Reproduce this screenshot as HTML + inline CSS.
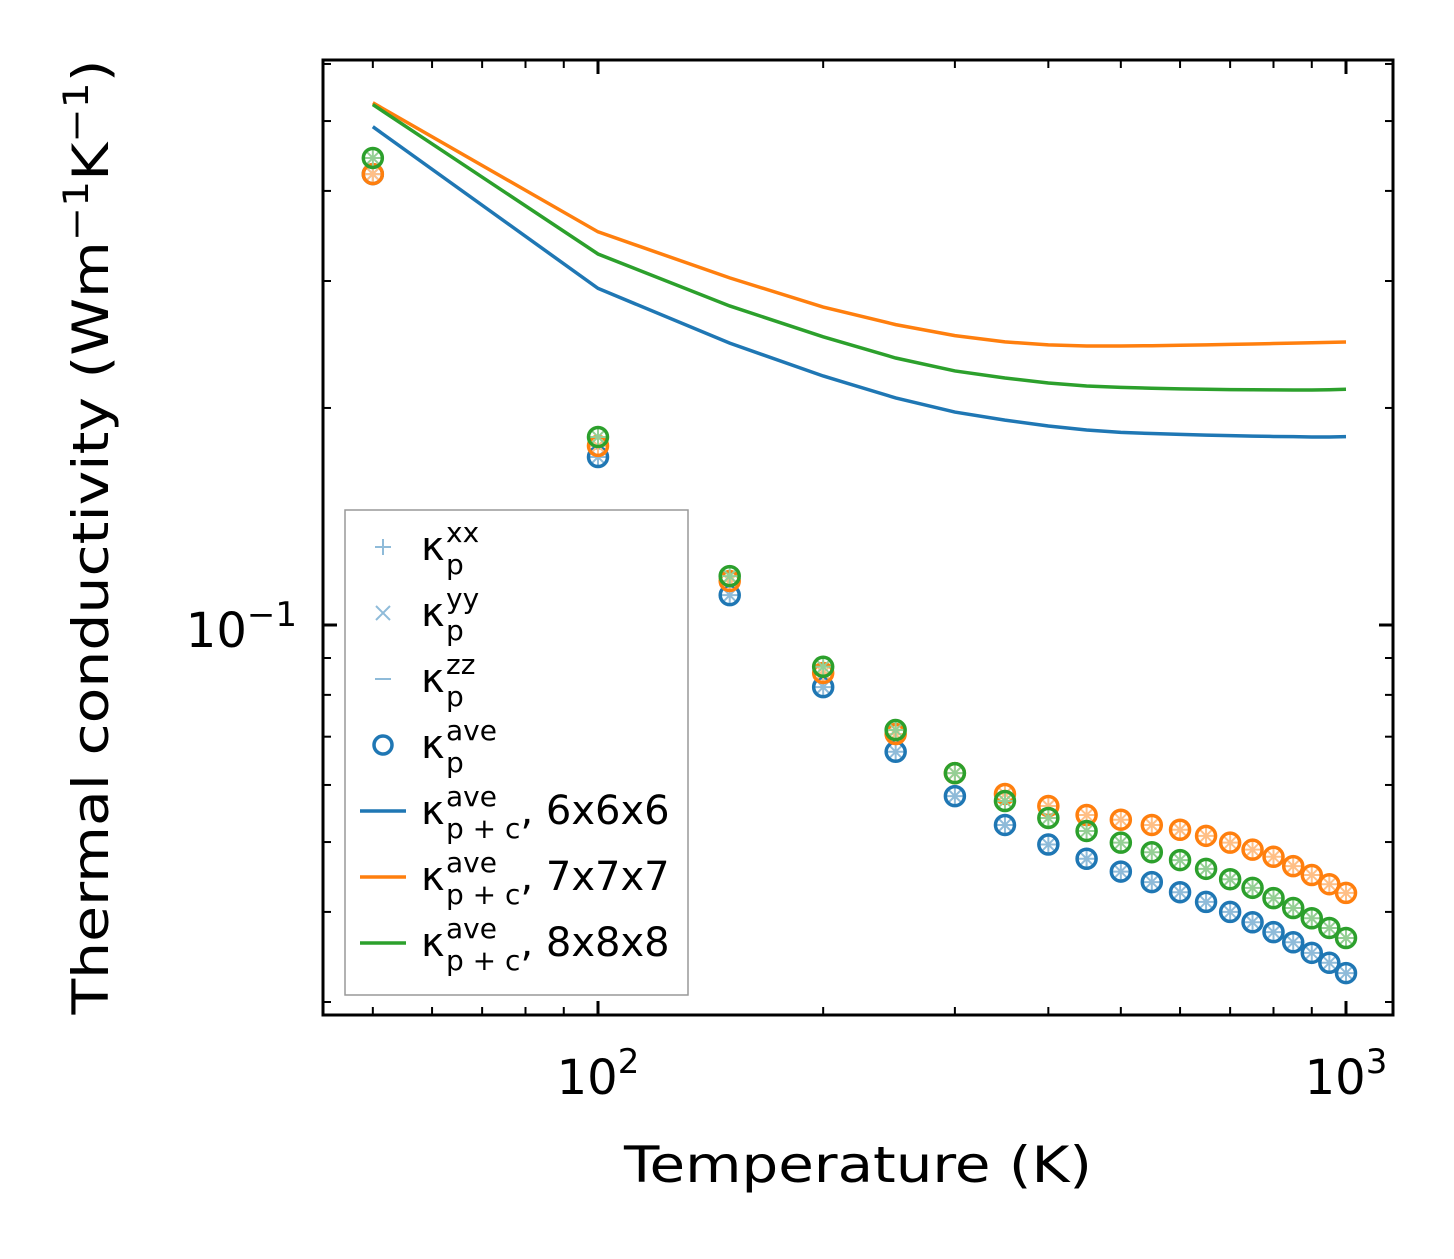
<!DOCTYPE html>
<html><head><meta charset="utf-8"><style>
body{margin:0;background:#fff}
svg text{font-family:"DejaVu Sans","Liberation Sans",sans-serif;fill:#000}
</style></head><body>
<svg id="chart" width="1454" height="1254" viewBox="0 0 1454 1254" xmlns="http://www.w3.org/2000/svg">
<rect width="1454" height="1254" fill="#fff"/>
<g id="marks"></g>
<rect x="323" y="60" width="1070" height="955" fill="none" stroke="#000" stroke-width="3"/>
<g id="ticks"></g>
<text x="598" y="1094" font-size="48" text-anchor="middle">10<tspan dy="-21" font-size="34">2</tspan></text>
<text x="1346" y="1094" font-size="48" text-anchor="middle">10<tspan dy="-21" font-size="34">3</tspan></text>
<text x="297" y="647" font-size="48" text-anchor="end">10<tspan dy="-21" font-size="34">−1</tspan></text>
<text x="858" y="1182" font-size="50" text-anchor="middle" textLength="468" lengthAdjust="spacingAndGlyphs">Temperature (K)</text>
<text transform="translate(108,537) rotate(-90)" font-size="50" text-anchor="middle" textLength="955" lengthAdjust="spacingAndGlyphs">Thermal conductivity (Wm<tspan dy="-20" font-size="35">−1</tspan><tspan dy="20">K</tspan><tspan dy="-20" font-size="35">−1</tspan><tspan dy="20">)</tspan></text>
<g>
<rect x="345" y="510" width="343" height="485" fill="#fff" stroke="#999" stroke-width="1.5"/>
<g id="legend-items"></g>
</g>
</svg>
<script>
const temps=[50,100,150,200,250,300,350,400,450,500,550,600,650,700,750,800,850,900,950,1000];
const line6=[.491,.293,.246,.2215,.2065,.1974,.1924,.1888,.1864,.1850,.1843,.1838,.1834,.1831,.1828,.1826,.1825,.1823,.1823,.1825];
const line7=[.530,.351,.303,.276,.261,.252,.247,.2446,.2438,.2438,.2440,.2443,.2446,.2450,.2453,.2457,.2460,.2463,.2466,.2469];
const line8=[.527,.327,.277,.251,.2346,.2251,.2201,.2166,.2145,.2136,.2130,.2126,.2123,.2121,.2120,.2119,.2118,.2118,.2120,.2123];
const pts6=[.4221,.1710,.1100,.0820,.0667,.0579,.0528,.0496,.0474,.0455,.0440,.0426,.0413,.0400,.0387,.0375,.0363,.0351,.0340,.0329];
const pts7=[.4221,.1772,.1151,.0858,.0706,.0623,.0583,.0561,.0545,.0537,.0528,.0520,.0510,.0499,.0488,.0477,.0463,.0450,.0437,.0425];
const pts8=[.4444,.1823,.1169,.0875,.0715,.0623,.0570,.0540,.0518,.0499,.0484,.0472,.0459,.0444,.0432,.0418,.0405,.0392,.0380,.0368];
const NS="http://www.w3.org/2000/svg";
const X=v=>598+748*(Math.log10(v)-2);
const Y=v=>625-721*(Math.log10(v)+1);
const C={b:"#1f77b4",o:"#ff7f0e",g:"#2ca02c"};
const L={b:"#8fbbd9",o:"#ffbf86",g:"#95cf95"};
function mk(tag,a,parent){const e=document.createElementNS(NS,tag);for(const k in a)e.setAttribute(k,a[k]);parent.appendChild(e);return e;}
const marks=document.getElementById('marks');
[[line6,'b','line-6x6x6'],[line7,'o','line-7x7x7'],[line8,'g','line-8x8x8']].forEach(([d,c,n])=>{
 const p=mk('polyline',{points:temps.map((t,i)=>X(t)+','+Y(d[i])).join(' '),fill:'none',stroke:C[c],'stroke-width':3.5},marks);
 
 
});
function inner(g,x,y,c){
 mk('path',{d:`M${x-8},${y}h16M${x},${y-8}v16M${x-6},${y-6}l12,12M${x-6},${y+6}l12,-12`,stroke:L[c],'stroke-width':2,fill:'none'},g);
}
[[pts6,'b','points-6x6x6'],[pts7,'o','points-7x7x7'],[pts8,'g','points-8x8x8']].forEach(([d,c,n])=>{
 const g=mk('g',{},marks);
 
 
 temps.forEach((t,i)=>{const x=X(t),y=Y(d[i]);inner(g,x,y,c);mk('circle',{cx:x,cy:y,r:9.5,fill:'none',stroke:C[c],'stroke-width':3.5},g);});
});
const tk=document.getElementById('ticks');
function tick(x1,y1,x2,y2,w){mk('line',{x1,y1,x2,y2,stroke:'#000','stroke-width':w},tk);}
[50,60,70,80,90,100,200,300,400,500,600,700,800,900,1000].forEach(t=>{const x=X(t);const maj=(t==100||t==1000);const l=maj?14:8;const w=maj?3:2;tick(x,1015,x,1015-l,w);tick(x,60,x,60+l,w);});
[0.03,0.04,0.05,0.06,0.07,0.08,0.09,0.1,0.2,0.3,0.4,0.5,0.6].forEach(v=>{const y=Y(v);const maj=v==0.1;const l=maj?14:8;const w=maj?3:2;tick(323,y,323+l,y,w);tick(1393,y,1393-l,y,w);});
const lg=document.getElementById('legend-items');
const rows=[['+','b','xx',''],['x','b','yy',''],['-','b','zz',''],['o','b','ave',''],['l','b','ave',', 6x6x6'],['l','o','ave',', 7x7x7'],['l','g','ave',', 8x8x8']];
rows.forEach((r,i)=>{
 const y=547+i*66;const x=383;
 const g=mk('g',{},lg);
 
 
 if(r[0]=='+')mk('path',{d:`M${x-8},${y}h16M${x},${y-8}v16`,stroke:L.b,'stroke-width':2},g);
 if(r[0]=='x')mk('path',{d:`M${x-7},${y-7}l14,14M${x-7},${y+7}l14,-14`,stroke:L.b,'stroke-width':2},g);
 if(r[0]=='-')mk('path',{d:`M${x-8},${y}h16`,stroke:L.b,'stroke-width':2},g);
 if(r[0]=='o')mk('circle',{cx:x,cy:y,r:9,fill:'none',stroke:C.b,'stroke-width':3.5},g);
 if(r[0]=='l')mk('path',{d:`M${x-23},${y}h46`,stroke:C[r[1]],'stroke-width':3.5},g);
 const t=mk('text',{x:421,y:y+13,'font-size':40},g);
 const sub=r[0]=='l'?'p + c':'p';
 t.innerHTML=`κ<tspan x="446" dy="-18" font-size="28">${r[2]}</tspan><tspan x="446" dy="32" font-size="28">${sub}</tspan><tspan dy="-14">${r[3]}</tspan>`;
});
</script>
</body></html>
